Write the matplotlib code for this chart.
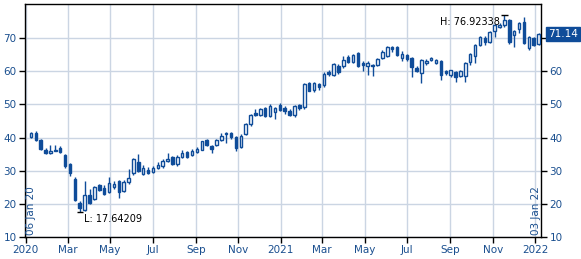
import matplotlib
matplotlib.use('Agg')

from matplotlib import pyplot
import matplotlib.dates as mdates
import numpy as np
import pandas as pd

# weekly candles, 06 Jan 2020 .. 03 Jan 2022
weeks = pd.date_range('2020-01-06', periods=105, freq='7D')

opens = [40.3, 41.4, 39.2, 36.3, 35.3, 36.0, 36.9, 34.8, 32.0, 27.5,
         20.3, 18.2, 22.7, 21.5, 25.8, 24.7, 23.6, 25.2, 26.8, 23.8,
         26.5, 29.2, 32.7, 29.1, 30.2, 29.5, 30.9, 31.4, 32.8, 34.0,
         31.9, 34.1, 35.6, 34.6, 35.7, 36.4, 39.4, 37.5, 37.7, 39.4,
         41.4, 41.3, 40.2, 37.2, 41.2, 44.2, 47.3, 46.9, 48.8, 46.5,
         47.8, 49.8, 49.0, 48.0, 46.7, 49.8, 49.3, 56.5, 54.3, 56.3,
         56.0, 59.8, 58.9, 61.5, 61.6, 64.3, 62.8, 65.5, 62.4, 61.6,
         62.0, 61.9, 64.0, 64.5, 67.2, 67.4, 63.9, 64.8, 63.9, 61.1,
         59.6, 62.6, 63.5, 62.5, 63.1, 60.0, 58.9, 59.7, 58.5, 58.6,
         62.8, 64.5, 67.8, 70.1, 68.9, 72.3, 73.5, 73.9, 75.4, 70.8,
         72.8, 75.0, 66.9, 70.1, 68.3]
highs = [41.8, 41.9, 39.6, 36.8, 37.9, 37.9, 37.6, 35.0, 32.3, 28.0,
         21.0, 26.8, 24.4, 25.3, 26.1, 25.8, 28.2, 26.8, 27.3, 27.3,
         30.5, 33.8, 35.0, 31.6, 31.2, 31.5, 32.6, 33.5, 35.3, 34.4,
         34.6, 36.3, 36.0, 36.6, 37.2, 39.1, 39.6, 37.9, 39.5, 41.4,
         41.6, 41.7, 40.5, 41.0, 44.3, 47.2, 48.5, 49.0, 49.1, 50.0,
         49.3, 50.4, 49.6, 48.5, 49.8, 50.2, 56.5, 56.9, 56.8, 56.6,
         59.8, 60.3, 62.5, 62.1, 64.7, 65.0, 65.3, 65.8, 63.0, 63.0,
         62.3, 64.0, 66.5, 67.6, 67.5, 67.7, 66.0, 65.3, 64.2, 61.6,
         63.8, 63.7, 64.3, 63.8, 63.4, 60.3, 60.5, 60.0, 60.4, 62.9,
         65.6, 68.1, 70.6, 70.5, 72.2, 74.3, 74.5, 76.92338, 75.7, 72.6,
         75.0, 76.4, 70.6, 70.4, 71.6]
lows = [40.0, 39.0, 36.2, 35.0, 35.0, 35.8, 35.2, 30.9, 28.3, 20.8,
        17.64209, 17.9, 20.0, 21.2, 23.9, 22.8, 23.3, 24.5, 21.7, 23.5,
        26.0, 28.7, 29.7, 28.8, 28.9, 29.2, 30.4, 30.8, 32.5, 31.6,
        31.5, 33.8, 33.8, 34.3, 35.2, 36.2, 37.6, 35.4, 37.4, 39.0,
        38.5, 39.7, 35.9, 36.8, 40.9, 43.6, 46.5, 46.5, 46.2, 46.2,
        45.5, 48.0, 47.1, 46.4, 46.2, 48.3, 48.6, 53.9, 53.8, 54.5,
        55.4, 58.6, 58.5, 59.3, 60.9, 62.5, 62.5, 61.2, 60.1, 58.8,
        58.7, 61.5, 63.6, 64.2, 65.8, 64.6, 63.2, 63.0, 58.3, 59.7,
        56.5, 62.0, 63.2, 62.1, 57.3, 58.8, 58.4, 56.9, 58.2, 56.8,
        62.0, 62.6, 67.5, 68.0, 68.5, 70.2, 73.0, 73.5, 68.3, 67.3,
        71.7, 68.3, 66.3, 67.5, 68.0]
closes = [41.4, 39.3, 36.6, 35.2, 36.0, 36.3, 35.6, 31.3, 29.4, 21.3,
          18.7, 22.8, 20.4, 25.0, 24.3, 23.0, 26.3, 26.1, 23.5, 26.5,
          27.7, 33.4, 30.0, 30.8, 29.4, 30.9, 31.6, 33.0, 33.6, 31.9,
          34.2, 35.4, 34.2, 36.0, 36.5, 38.9, 37.9, 36.5, 39.2, 40.5,
          41.0, 40.2, 37.0, 40.6, 44.0, 46.8, 46.9, 48.7, 46.5, 49.5,
          48.8, 48.3, 48.1, 46.8, 49.6, 48.9, 56.3, 54.2, 56.4, 55.4,
          59.3, 59.1, 62.1, 59.9, 63.3, 62.8, 64.9, 61.5, 61.8, 62.5,
          61.7, 63.6, 65.9, 67.3, 66.6, 64.9, 65.3, 63.6, 61.4, 60.1,
          63.3, 63.1, 63.9, 63.5, 58.9, 59.6, 60.3, 58.2, 60.0, 62.4,
          65.3, 67.8, 70.3, 68.9, 71.9, 73.9, 74.0, 75.6, 68.9, 72.1,
          74.5, 68.6, 70.2, 67.9, 71.14]

low_idx = 10
high_idx = 97

BLUE = '#0f4c99'
TXT = '#1a4f8f'
GRID = '#cbd5e3'

fig = pyplot.figure(figsize=(5.81, 2.59), dpi=100)
ax = fig.add_axes([25 / 581, 22 / 259, 516 / 581, 233 / 259])

x = mdates.date2num(weeks) + 2.5
o = np.array(opens)
c = np.array(closes)
up = c >= o

ax.vlines(x, lows, highs, color=BLUE, linewidth=1, zorder=3)
bottom = np.minimum(o, c)
height = np.maximum(np.abs(c - o), 0.25)
ax.bar(x[up], height[up], bottom=bottom[up], width=3.6, color='white',
       edgecolor=BLUE, linewidth=1, zorder=4)
ax.bar(x[~up], height[~up], bottom=bottom[~up], width=3.6, color=BLUE,
       edgecolor=BLUE, linewidth=1, zorder=4)

# low / high markers
ax.hlines(lows[low_idx], x[low_idx] - 4.5, x[low_idx] + 4.5, color='k', linewidth=1, zorder=5)
ax.text(x[low_idx] + 6, lows[low_idx] - 0.6, 'L: 17.64209', fontsize=7, color='k',
        ha='left', va='top')
ax.hlines(highs[high_idx], x[high_idx] - 4.5, x[high_idx] + 4.5, color='k', linewidth=1, zorder=5)
ax.text(x[high_idx] - 6, highs[high_idx] - 0.4, 'H: 76.92338', fontsize=7, color='k',
        ha='right', va='top')

# first / last date labels
ax.text(x[0], 10.6, weeks[0].strftime('%d %b %y'), rotation=90, fontsize=7.5,
        color=TXT, ha='center', va='bottom')
ax.text(x[-1] - 4, 10.6, weeks[-1].strftime('%d %b %y'), rotation=90, fontsize=7.5,
        color=TXT, ha='center', va='bottom')

# last price box
ax.annotate('71.14', xy=(1.0, closes[-1]), xycoords=('axes fraction', 'data'),
            xytext=(5, 0), textcoords='offset points', fontsize=7.5, color='white',
            ha='left', va='center', annotation_clip=False,
            bbox=dict(boxstyle='square,pad=0.2', fc=BLUE, ec=BLUE))

ax.set_ylim(10, 80.3)
ax.set_xlim(mdates.datestr2num('2019-12-31'), mdates.datestr2num('2022-01-09'))
ax.set_yticks([10, 20, 30, 40, 50, 60, 70])

ticks = ['2020-01-01', '2020-03-01', '2020-05-01', '2020-07-01', '2020-09-01',
         '2020-11-01', '2021-01-01', '2021-03-01', '2021-05-01', '2021-07-01',
         '2021-09-01', '2021-11-01', '2022-01-01']
tick_labels = ['2020', 'Mar', 'May', 'Jul', 'Sep', 'Nov', '2021', 'Mar', 'May',
               'Jul', 'Sep', 'Nov', '2022']
ax.set_xticks([mdates.datestr2num(t) for t in ticks])
ax.set_xticklabels(tick_labels)

ax.tick_params(axis='both', labelsize=7.5, labelcolor=TXT, color='k', length=4,
               width=1, direction='out', pad=2)
ax.tick_params(axis='y', left=True, right=True, labelleft=True, labelright=True)
# the price box sits over the right-hand "70"
ax.yaxis.get_major_ticks()[-1].label2.set_visible(False)
ax.grid(True, color=GRID, linewidth=1, zorder=0)
ax.set_axisbelow(True)
for s in ax.spines.values():
    s.set_color('k')
    s.set_linewidth(1)

pyplot.savefig('out.png', dpi=100)
pyplot.close()
